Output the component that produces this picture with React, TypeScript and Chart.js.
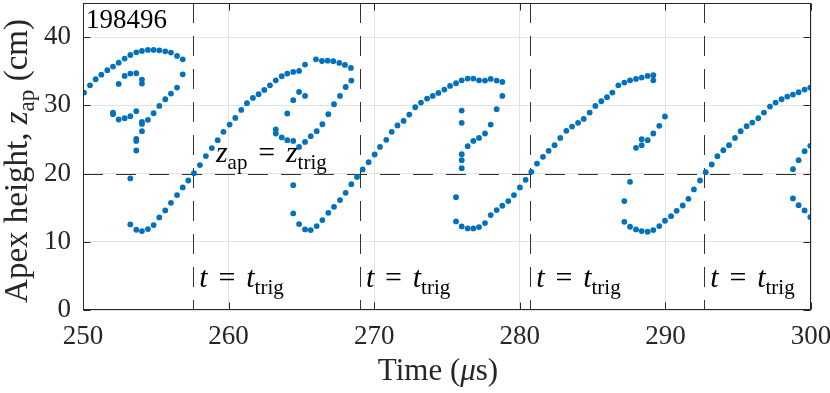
import React, { useEffect, useRef } from 'react';
import { Chart, registerables } from 'chart.js';

Chart.register(...registerables);

// ---------- data ----------
const X_TICKS = [250, 260, 270, 280, 290, 300];
const Y_TICKS = [0, 10, 20, 30, 40];
const X_RANGE = [250, 300];
const Y_RANGE = [0, 45];
const TRIGGER_TIMES = [257.58, 269.02, 280.72, 292.67];
const TRIGGER_HEIGHT = 20;
const SHOT_ID = '198496';

type P = [number, number];

const cycle1Upper: P[] = [
  [250.07, 31.87], [250.48, 32.94], [250.87, 33.82], [251.26, 34.5], [251.67, 35.14], [252.06, 35.68],
  [252.45, 36.26], [252.86, 36.85], [253.25, 37.38], [253.66, 37.77], [254.05, 37.97], [254.46, 38.12],
  [254.85, 38.12], [255.24, 38.07], [255.65, 37.92], [256.04, 37.73], [256.46, 37.24], [256.85, 36.75],
];
const cycle1Inner: P[] = [
  [252.45, 33.14], [252.86, 34.31], [253.25, 34.65], [253.66, 34.7], [254.05, 33.77], [254.05, 33.19],
];
const cycle1Descent: P[] = [
  [256.85, 34.55], [256.46, 32.6], [256.04, 31.72], [255.65, 30.89], [255.24, 29.92], [254.85, 28.84],
  [254.46, 27.87], [254.05, 27.57], [254.05, 27.28], [254.05, 26.21],
];
const cycle1Loop: P[] = [
  [252.06, 28.94], [252.06, 28.7], [252.45, 27.92], [252.86, 28.11], [253.25, 28.4], [253.66, 29.14],
  [253.66, 25.09], [253.66, 24.79], [253.66, 23.38], [253.25, 19.28],
];
const cycle1Lower: P[] = [
  [253.25, 12.54], [253.66, 11.76], [254.05, 11.57], [254.46, 11.86], [254.85, 12.45], [255.24, 13.57],
  [255.65, 14.59], [256.04, 15.71], [256.46, 16.84], [256.85, 17.96], [257.23, 18.98],
];
const cycle1Rising: P[] = [
  [257.62, 20.06], [258.03, 21.25], [258.44, 22.56], [258.85, 23.74], [259.25, 24.89], [259.65, 26.12],
  [260.07, 27.18], [260.46, 28.16], [260.87, 29.33], [261.26, 30.31], [261.67, 31.09], [262.06, 31.63],
  [262.45, 32.26], [262.84, 32.94], [263.24, 33.67], [263.65, 34.26], [264.03, 34.65], [264.44, 34.89],
  [264.84, 35.04], [265.25, 35.97], [266.0, 36.75], [266.41, 36.5], [266.8, 36.55], [267.19, 36.46],
  [267.6, 36.21], [267.99, 35.92], [268.4, 35.48],
];
const cycle2Inner: P[] = [
  [264.03, 28.8], [264.44, 30.75], [264.84, 31.96], [265.25, 31.38],
];
const cycle2Loop: P[] = [
  [263.24, 26.46], [263.24, 25.87], [263.65, 25.29], [264.03, 24.89], [264.44, 24.79], [264.84, 23.91],
  [265.25, 24.64], [265.64, 25.48], [266.05, 26.21], [266.44, 27.23], [266.85, 28.7], [267.24, 30.16],
  [267.65, 31.38], [268.04, 32.69], [268.43, 33.63],
];
const cycle2Lower: P[] = [
  [264.44, 18.3], [264.44, 14.16], [264.84, 12.59], [265.25, 11.81], [265.64, 11.71], [266.05, 12.3],
  [266.44, 13.18], [266.85, 14.25], [267.24, 15.12], [267.65, 16.11], [268.04, 17.18], [268.43, 18.45],
  [268.82, 19.5],
];
const cycle2Rising: P[] = [
  [269.21, 20.6], [269.62, 21.67], [270.03, 22.79], [270.4, 23.91], [270.83, 24.94], [271.2, 26.11],
  [271.6, 27.05], [272.02, 27.72], [272.41, 28.65], [272.82, 29.72], [273.21, 30.41], [273.63, 30.99],
  [274.02, 31.38], [274.41, 31.82], [274.82, 32.31], [275.21, 32.85], [275.62, 33.24], [276.01, 33.67],
  [276.42, 33.92], [276.81, 33.92], [277.2, 33.67], [277.61, 33.63], [278.0, 33.87], [278.41, 33.63],
  [278.8, 33.43],
];
const cycle3Descent: P[] = [
  [276.01, 29.23], [276.01, 27.43], [278.8, 31.38], [278.41, 29.43], [278.0, 27.18], [277.61, 25.87],
  [277.2, 25.23], [276.81, 24.79], [276.42, 24.01], [276.01, 22.84], [276.01, 21.96], [276.01, 20.79],
];
const cycle3Lower: P[] = [
  [275.62, 16.54], [275.62, 12.98], [276.01, 12.25], [276.42, 11.96], [276.81, 11.96], [277.2, 12.15],
  [277.61, 12.74], [278.0, 13.91], [278.41, 14.64], [278.8, 15.28],
];
const cycle3Rising: P[] = [
  [279.21, 15.96], [279.6, 16.84], [280.01, 17.96], [280.4, 19.08], [280.79, 20.25], [281.18, 21.47],
  [281.59, 22.45], [281.98, 23.33], [282.39, 24.16], [282.78, 25.23], [283.2, 26.26], [283.59, 26.89],
  [284.0, 27.43], [284.39, 28.01], [284.8, 28.94], [285.19, 29.92], [285.6, 30.6], [285.99, 31.19],
  [286.36, 31.87], [286.77, 32.94], [287.18, 33.33], [287.57, 33.67], [287.98, 33.87], [288.37, 34.07],
  [288.78, 34.31], [289.17, 34.41], [289.17, 33.67],
];
const cycle4Inner: P[] = [
  [287.98, 23.77], [288.37, 24.16], [288.37, 25.04], [288.78, 24.89], [289.17, 25.87], [289.58, 26.99],
  [289.97, 28.36],
];
const cycle4Lower: P[] = [
  [287.57, 18.79], [287.18, 15.96], [287.18, 12.93], [287.57, 12.2], [287.98, 11.81], [288.37, 11.57],
  [288.78, 11.47], [289.17, 11.71], [289.58, 12.3], [289.97, 13.08], [290.39, 13.76], [290.77, 14.54],
  [291.19, 15.32], [291.58, 16.3], [291.96, 17.67], [292.38, 18.98], [292.77, 20.2],
];
const cycle4Rising: P[] = [
  [293.18, 21.33], [293.57, 22.55], [293.98, 23.43], [294.37, 24.16], [294.78, 25.23], [295.17, 26.21],
  [295.58, 26.94], [295.97, 27.48], [296.38, 28.11], [296.77, 28.94], [297.18, 29.82], [297.57, 30.4],
  [297.98, 30.89], [298.37, 31.28], [298.76, 31.58], [299.15, 31.92], [299.56, 32.31], [299.95, 32.6],
];
const cycle5Start: P[] = [
  [298.76, 20.64], [299.15, 21.96], [299.56, 23.28], [299.95, 24.06],
  [298.76, 16.35], [299.15, 15.37], [299.56, 14.59], [299.95, 13.62],
];

const ALL_BRANCHES: P[][] = [
  cycle1Upper, cycle1Inner, cycle1Descent, cycle1Loop, cycle1Lower, cycle1Rising,
  cycle2Inner, cycle2Loop, cycle2Lower, cycle2Rising,
  cycle3Descent, cycle3Lower, cycle3Rising,
  cycle4Inner, cycle4Lower, cycle4Rising, cycle5Start,
];

// label anchors (data coordinates)
const Z_LABEL_AT: P = [259.13, 21.67];
const T_LABEL_HEIGHT = 3.3;

// ---------- drawing helpers ----------
const FONT = '"Liberation Serif", "Times New Roman", serif';
const TXT = '#262626';
type Seg = { t: string; it?: boolean; sub?: boolean; gap?: number };

function fontFor(s: Seg, size: number) {
  const sz = s.sub ? size * 0.7 : size;
  return `${s.it ? 'italic ' : ''}${sz}px ${FONT}`;
}
function segW(ctx: CanvasRenderingContext2D, s: Seg, size: number) {
  ctx.font = fontFor(s, size);
  return ctx.measureText(s.t).width + 2 * (s.gap ?? 0) * size;
}
function drawRich(ctx: CanvasRenderingContext2D, segs: Seg[], x: number, y: number, size: number, align: 'left' | 'center') {
  let total = 0;
  for (const s of segs) total += segW(ctx, s, size);
  let cx = align === 'center' ? x - total / 2 : x;
  ctx.textAlign = 'left';
  ctx.textBaseline = 'alphabetic';
  for (const s of segs) {
    const w = segW(ctx, s, size);
    ctx.font = fontFor(s, size);
    ctx.fillText(s.t, cx + (s.gap ?? 0) * size, s.sub ? y + size * 0.22 : y);
    cx += w;
  }
}

const EQ: Seg = { t: '=', gap: 0.36 };

const overlay = {
  id: 'overlay',
  beforeDatasetsDraw(chart: any) {
    const { ctx, chartArea: a, scales } = chart;
    const x = scales.x, y = scales.y;
    ctx.save();
    ctx.beginPath();
    ctx.rect(a.left, a.top, a.right - a.left, a.bottom - a.top);
    ctx.clip();
    ctx.strokeStyle = '#333333';
    ctx.lineWidth = 1;
    ctx.setLineDash([20, 13]);
    const yy = Math.round(y.getPixelForValue(TRIGGER_HEIGHT)) + 0.5;
    ctx.beginPath(); ctx.moveTo(a.left, yy); ctx.lineTo(a.right, yy); ctx.stroke();
    for (const t of TRIGGER_TIMES) {
      const xx = Math.round(x.getPixelForValue(t)) + 0.5;
      ctx.beginPath(); ctx.moveTo(xx, a.top); ctx.lineTo(xx, a.bottom); ctx.stroke();
    }
    ctx.restore();
  },
  afterDraw(chart: any) {
    const { ctx, chartArea: a, scales } = chart;
    const x = scales.x, y = scales.y;
    ctx.save();
    // box + inward ticks
    ctx.strokeStyle = TXT;
    ctx.lineWidth = 1;
    ctx.setLineDash([]);
    const L = Math.round(a.left) + 0.5, R = Math.round(a.right) - 0.5;
    const T = Math.round(a.top) + 0.5, B = Math.round(a.bottom) - 0.5;
    ctx.strokeRect(L, T, R - L, B - T);
    const tl = 7;
    ctx.beginPath();
    for (const v of X_TICKS) {
      const px = Math.round(x.getPixelForValue(v)) + 0.5;
      ctx.moveTo(px, B); ctx.lineTo(px, B - tl);
      ctx.moveTo(px, T); ctx.lineTo(px, T + tl);
    }
    for (const v of Y_TICKS) {
      const py = Math.round(y.getPixelForValue(v)) + 0.5;
      ctx.moveTo(L, py); ctx.lineTo(L + tl, py);
      ctx.moveTo(R, py); ctx.lineTo(R - tl, py);
    }
    ctx.stroke();

    // text labels
    ctx.fillStyle = '#000000';
    drawRich(ctx, [{ t: SHOT_ID }], a.left + 3, a.top + 25, 27, 'left');
    drawRich(ctx,
      [{ t: 'z', it: true }, { t: 'ap', sub: true }, EQ, { t: 'z', it: true }, { t: 'trig', sub: true }],
      x.getPixelForValue(Z_LABEL_AT[0]), y.getPixelForValue(Z_LABEL_AT[1]), 30, 'left');
    for (const t of TRIGGER_TIMES) {
      drawRich(ctx,
        [{ t: 't', it: true }, EQ, { t: 't', it: true }, { t: 'trig', sub: true }],
        x.getPixelForValue(t) + 6, y.getPixelForValue(T_LABEL_HEIGHT), 30, 'left');
    }

    // axis titles
    ctx.fillStyle = TXT;
    drawRich(ctx, [{ t: 'Time (' }, { t: 'μ', it: true }, { t: 's)' }], (a.left + a.right) / 2 - 9, 380, 31, 'center');
    ctx.translate(27, 161);
    ctx.rotate(-Math.PI / 2);
    drawRich(ctx, [{ t: 'Apex height, ' }, { t: 'z', it: true }, { t: 'ap', sub: true }, { t: ' (cm)' }], 0, 0, 33, 'center');
    ctx.restore();
  },
};

export default function App() {
  const ref = useRef<HTMLCanvasElement | null>(null);
  useEffect(() => {
    document.body.style.margin = '0';
    const canvas = ref.current!;
    const points = ALL_BRANCHES.flat().map(([t, z]) => ({ x: t, y: z }));
    const tickFont = { family: FONT, size: 27 };
    const chart = new Chart(canvas, {
      type: 'scatter',
      data: {
        datasets: [{
          data: points,
          backgroundColor: '#0072BD',
          borderColor: '#0072BD',
          pointRadius: 2.9,
          pointBorderWidth: 0,
          pointHoverRadius: 2.9,
        }],
      },
      options: {
        animation: false,
        responsive: false,
        devicePixelRatio: 1,
        layout: { padding: { top: 3, right: 19, left: 0, bottom: 0 } },
        plugins: { legend: { display: false }, tooltip: { enabled: false } },
        scales: {
          x: {
            type: 'linear', min: X_RANGE[0], max: X_RANGE[1],
            afterBuildTicks: (s: any) => { s.ticks = X_TICKS.map((v) => ({ value: v })); },
            ticks: { font: tickFont, color: TXT, padding: 11, maxRotation: 0, autoSkip: false },
            grid: { color: '#e3e3e3', drawTicks: false },
            border: { display: false },
            afterFit: (s: any) => { s.height = 83; s.paddingLeft = 0; s.paddingRight = 0; },
          },
          y: {
            type: 'linear', min: Y_RANGE[0], max: Y_RANGE[1],
            afterBuildTicks: (s: any) => { s.ticks = Y_TICKS.map((v) => ({ value: v })); },
            ticks: { font: tickFont, color: TXT, padding: 12, autoSkip: false },
            grid: { color: '#e3e3e3', drawTicks: false },
            border: { display: false },
            afterFit: (s: any) => { s.width = 83; s.paddingTop = 0; s.paddingBottom = 0; },
          },
        },
      },
      plugins: [overlay],
    } as any);
    return () => chart.destroy();
  }, []);
  return <canvas ref={ref} width={830} height={393} style={{ display: 'block', width: 830, height: 393 }} />;
}
